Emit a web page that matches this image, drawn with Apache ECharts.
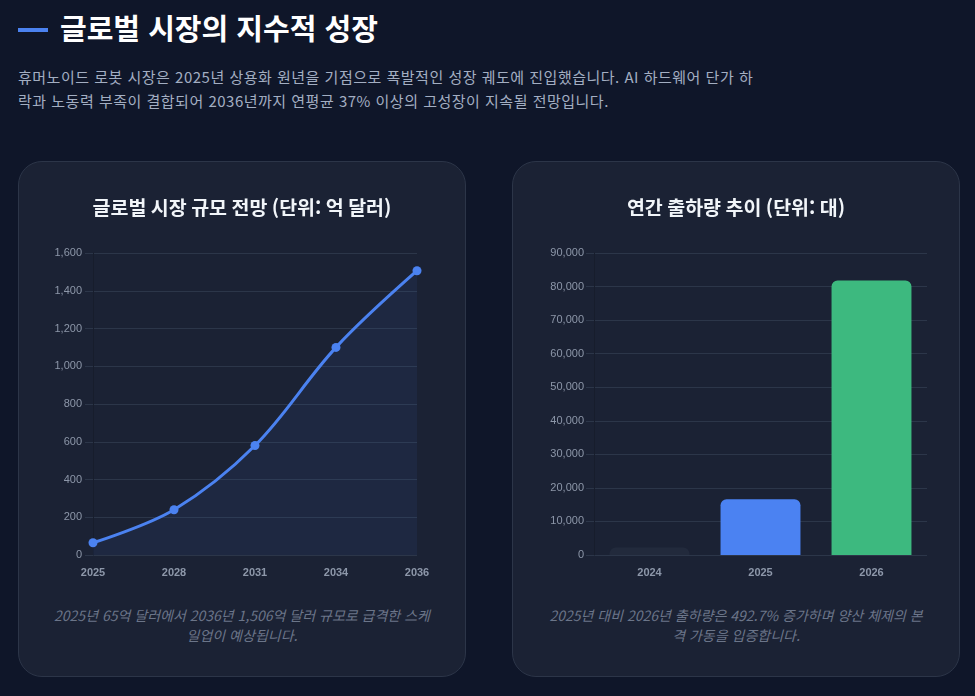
<!DOCTYPE html>
<html lang="ko">
<head>
<meta charset="utf-8">
<script src="https://cdn.jsdelivr.net/npm/echarts@6/dist/echarts.min.js"></script>
<style>
  body { margin: 0; background: #0f1629; width: 975px; height: 696px; overflow: hidden;
    font-family: "Noto Sans CJK KR", "Noto Sans", sans-serif; }
  .bar { position: absolute; left: 18px; top: 28px; width: 30px; height: 4px; background: #4b82f0; }
  .head { position: absolute; left: 60px; top: 8px; margin: 0; font-size: 29px; line-height: 38px;
    font-weight: 700; color: #ffffff; }
  .desc { position: absolute; left: 18px; top: 65px; width: 742px; margin: 0; font-size: 15px;
    letter-spacing: 0.5px; line-height: 24px; color: #a3aec2; }
  .card { position: absolute; top: 161px; width: 448px; height: 516px; background: #1b2234;
    border: 1px solid #2c3548; border-radius: 24px; box-sizing: border-box; }
  .chart { position: absolute; left: 0; top: 0; width: 100%; height: 440px; }
  .cap { position: absolute; left: 30px; right: 30px; top: 443px; margin: 0; text-align: center;
    font-size: 14px; line-height: 20px; font-style: italic; color: #6b7589; }
</style>
</head>
<body>
<div class="bar"></div>
<h1 class="head">글로벌 시장의 지수적 성장</h1>
<p class="desc">휴머노이드 로봇 시장은 2025년 상용화 원년을 기점으로 폭발적인 성장 궤도에 진입했습니다. AI 하드웨어 단가 하락과 노동력 부족이 결합되어 2036년까지 연평균 37% 이상의 고성장이 지속될 전망입니다.</p>

<div class="card" style="left:18px">
  <div class="chart" id="market"></div>
  <p class="cap">2025년 65억 달러에서 2036년 1,506억 달러 규모로 급격한 스케일업이 예상됩니다.</p>
</div>
<div class="card" style="left:512px">
  <div class="chart" id="ship"></div>
  <p class="cap">2025년 대비 2026년 출하량은 492.7% 증가하며 양산 체제의 본격 가동을 입증합니다.</p>
</div>

<script>
// 시장 규모 (억 달러)
const marketYears = ['2025', '2028', '2031', '2034', '2036'];
const marketSize = [65, 240, 580, 1100, 1506];

// 연간 출하량 (대)
const shipYears = ['2024', '2025', '2026'];
const shipments = [2200, 16600, 81800];
const shipColors = ['#222a3c', '#4b82f2', '#3db97f'];

const gridColor = '#2c3649';
const labelStyle = { color: '#8d97a9', fontSize: 11, fontFamily: 'Liberation Sans, Arial, sans-serif' };

function titleOf(text) {
  return {
    text,
    left: 'center',
    top: 31,
    textStyle: { color: '#f1f5f9', fontSize: 19.5, fontWeight: 'bold', fontFamily: 'Noto Sans CJK KR' }
  };
}

function yAxisOf(max, interval, margin) {
  return {
    type: 'value',
    min: 0,
    max,
    interval,
    axisLine: { show: true, lineStyle: { color: '#171d2c' } },
    axisTick: { show: true, length: 8, lineStyle: { color: gridColor } },
    splitLine: { lineStyle: { color: gridColor } },
    axisLabel: Object.assign({ margin, formatter: v => v.toLocaleString('en-US') }, labelStyle)
  };
}

// 시장 규모 라인 차트
const marketChart = echarts.init(document.getElementById('market'));
marketChart.setOption({
  animation: false,
  title: titleOf('글로벌 시장 규모 전망 (단위: 억 달러)'),
  grid: { left: 74, right: 48, top: 91, bottom: 47 },
  xAxis: {
    type: 'category',
    data: marketYears,
    boundaryGap: false,
    axisLine: { show: false },
    axisTick: { show: false },
    axisLabel: Object.assign({ margin: 12, fontWeight: 'bold' }, labelStyle)
  },
  yAxis: yAxisOf(1600, 200, 11),
  series: [{
    type: 'line',
    data: marketSize,
    smooth: 0.35,
    symbol: 'circle',
    symbolSize: 9,
    lineStyle: { color: '#4b82f0', width: 3 },
    itemStyle: { color: '#4b82f0' },
    areaStyle: { color: 'rgba(75,130,240,0.1)' }
  }]
});

// 출하량 막대 차트
const shipChart = echarts.init(document.getElementById('ship'));
shipChart.setOption({
  animation: false,
  title: titleOf('연간 출하량 추이 (단위: 대)'),
  grid: { left: 81, right: 32, top: 91, bottom: 47 },
  xAxis: {
    type: 'category',
    data: shipYears,
    axisLine: { show: false },
    axisTick: { show: false },
    axisLabel: Object.assign({ margin: 12, fontWeight: 'bold' }, labelStyle)
  },
  yAxis: yAxisOf(90000, 10000, 10),
  series: [{
    type: 'bar',
    barWidth: '72%',
    data: shipments.map((v, i) => ({
      value: v,
      itemStyle: { color: shipColors[i], borderRadius: [6, 6, 0, 0] }
    }))
  }]
});
</script>
</body>
</html>
